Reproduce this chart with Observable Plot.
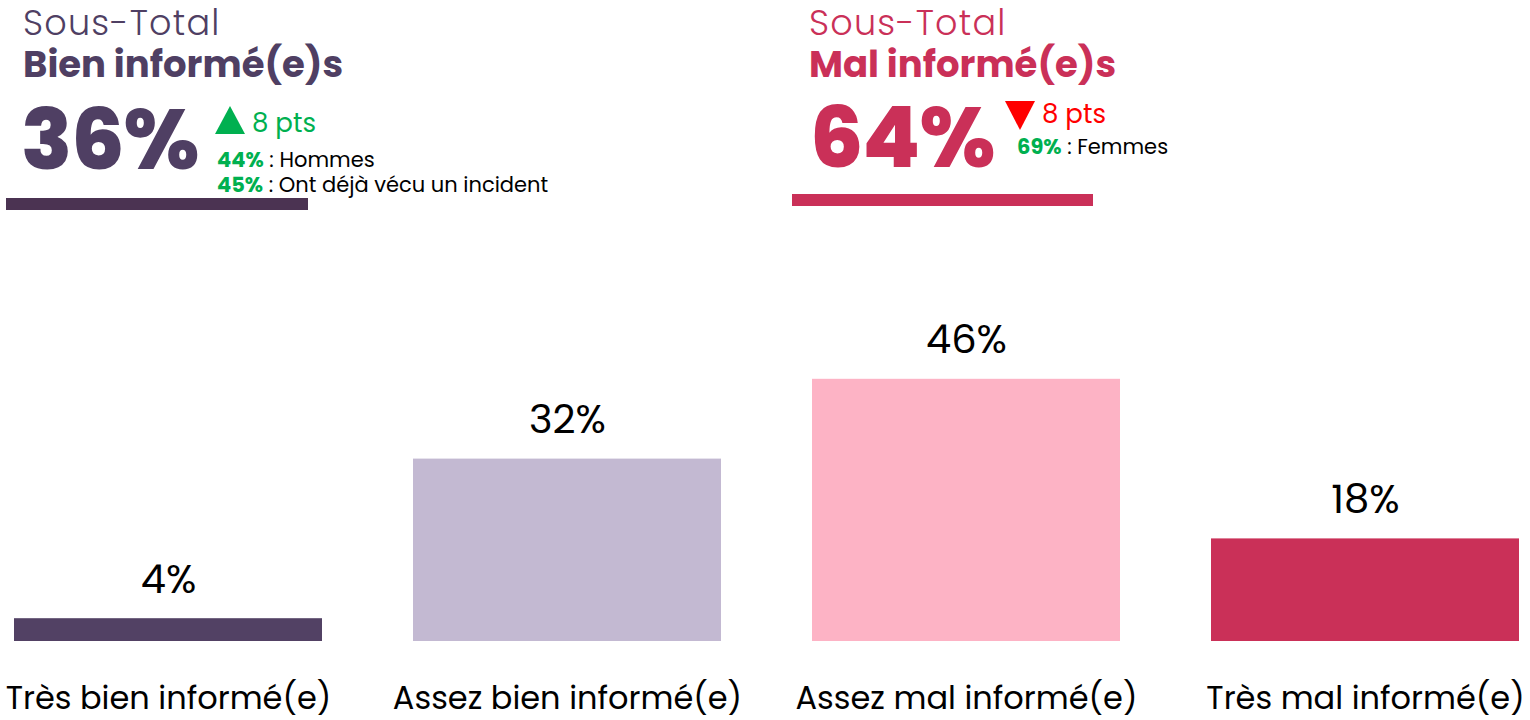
<!DOCTYPE html>
<html>
<head>
<meta charset="utf-8">
<script src="https://cdn.jsdelivr.net/npm/d3@7"></script>
<script src="https://cdn.jsdelivr.net/npm/@observablehq/plot@0.6"></script>
<style>
  html, body { margin: 0; padding: 0; background: #fff; }
  body { width: 1530px; height: 720px; overflow: hidden; font-family: Poppins, Inter, "Open Sans", sans-serif; }
  #header { position: relative; width: 1530px; height: 260px; }
  .blk { position: absolute; }
  .lbl { position: absolute; white-space: nowrap; line-height: 1; }
  .rule { position: absolute; height: 12px; }
</style>
</head>
<body>
<div id="header"></div>
<div id="chart"></div>
<script>
// ---- data ----
const categories = ["Très bien informé(e)", "Assez bien informé(e)", "Assez mal informé(e)", "Très mal informé(e)"];
const values = [4, 32, 46, 18];
const barColors = ["#524164", "#c3b9d2", "#fdb3c5", "#ca3058"];

const subtotalTitles = ["Bien informé(e)s", "Mal informé(e)s"];
const subtotalValues = [36, 64];
const subtotalChanges = [8, 8];
const subtotalDirections = ["up", "down"];
const subtotalColors = ["#4f3f63", "#ca3058"];
const changeColors = ["#00b050", "#ff0000"];
const notesLeft = [["44%", "Hommes"], ["45%", "Ont déjà vécu un incident"]];
const notesRight = [["69%", "Femmes"]];
const notes = [notesLeft, notesRight];

// ---- header (HTML) ----
const header = document.getElementById("header");
const layouts = [
  {x: 0, ruleX: 6, ruleW: 302, ruleY: 198, triY: 106, ptsY: 110, notesY: 149, notesX: 217, triX: 215, numTop: 108},
  {x: 786, ruleX: 792, ruleW: 301, ruleY: 194, triY: 101, ptsY: 101, notesY: 136, notesX: 231, triX: 219, numTop: 106}
];
subtotalTitles.forEach((t, i) => {
  const L = layouts[i];
  const blk = document.createElement("div");
  blk.className = "blk";
  blk.style.left = L.x + "px";
  blk.style.top = "0px";
  blk.style.color = subtotalColors[i];
  const tri = subtotalDirections[i] === "up"
    ? `<svg width="30" height="28" style="position:absolute;left:${L.triX}px;top:${L.triY}px"><polygon points="15,0 30,28 0,28" fill="${changeColors[i]}"/></svg>`
    : `<svg width="30" height="29" style="position:absolute;left:${L.triX}px;top:${L.triY}px"><polygon points="0,0 30,0 15,29" fill="${changeColors[i]}"/></svg>`;
  let notesHtml = notes[i].map((n, k) =>
    `<div class="lbl" style="left:${L.notesX}px;top:${L.notesY + k * 25}px;font-size:21px;color:#000"><b style="color:#00b050;font-weight:700">${n[0]}</b> : ${n[1]}</div>`
  ).join("");
  blk.innerHTML = `
    <div class="lbl" style="left:23px;top:5px;font-size:35px;font-weight:300;letter-spacing:1.2px">Sous-Total</div>
    <div class="lbl" style="left:23px;top:46px;font-size:37px;font-weight:700">${t}</div>
    <div class="lbl" style="left:${i ? 24 : 21}px;top:${L.numTop}px;font-size:84px;font-weight:800;letter-spacing:-1px;line-height:0.75">${subtotalValues[i]}%</div>
    ${tri}
    <div class="lbl" style="left:${L.triX + 37}px;top:${L.ptsY}px;font-size:26px;color:${changeColors[i]}">${subtotalChanges[i]} pts</div>
    ${notesHtml}
  `;
  header.appendChild(blk);
  const rule = document.createElement("div");
  rule.className = "rule";
  rule.style.left = L.ruleX + "px";
  rule.style.top = L.ruleY + "px";
  rule.style.width = L.ruleW + "px";
  rule.style.background = i === 0 ? "#4b3352" : "#ca3058";
  header.appendChild(rule);
});

// ---- chart (Plot) ----
const data = categories.map((c, i) => ({category: c, value: values[i], color: barColors[i]}));

const chart = Plot.plot({
  width: 1530,
  height: 460,
  marginLeft: 14,
  marginRight: 10,
  marginTop: 96,
  marginBottom: 79,
  style: {fontFamily: "Poppins, Inter, 'Open Sans', sans-serif", background: "#fff"},
  x: {domain: categories, paddingInner: 0.228, paddingOuter: 0, axis: null},
  y: {domain: [0, 50], axis: null},
  marks: [
    Plot.barY(data, {x: "category", y: "value", fill: "color"}),
    Plot.text(data, {x: "category", y: "value", text: d => `${d.value}%`, dy: -39, lineAnchor: "middle", fontSize: 40, fill: "#000"}),
    Plot.text(data, {x: "category", frameAnchor: "bottom", text: "category", dy: 57, lineAnchor: "middle", fontSize: 32, fill: "#000"})
  ]
});
document.getElementById("chart").appendChild(chart);
</script>
</body>
</html>
